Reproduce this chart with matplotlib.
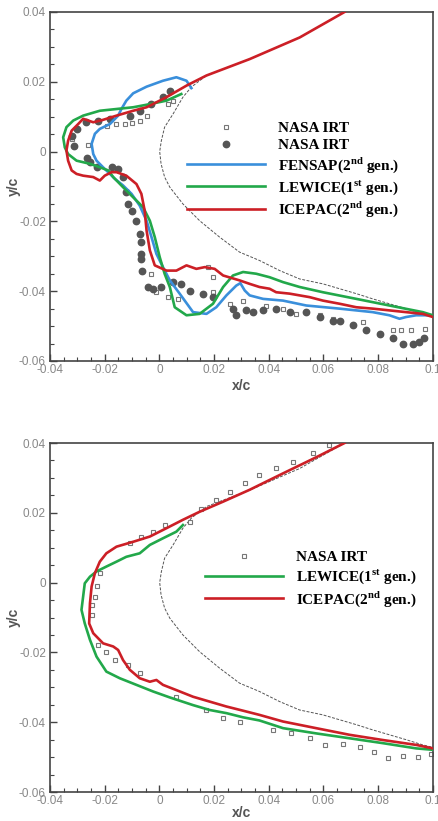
import matplotlib
matplotlib.use('Agg')
import matplotlib.pyplot as plt
from matplotlib.ticker import MultipleLocator, FixedLocator, FixedFormatter

plt.rcParams['mathtext.fontset'] = 'custom'
plt.rcParams['mathtext.rm'] = 'Liberation Serif:bold'
plt.rcParams['mathtext.bf'] = 'Liberation Serif:bold'

# ---------------- data ----------------
# clean airfoil (thin dashed)
clean_x = [0.0677, 0.0513, 0.0330, 0.0172, 0.0117, 0.0086, 0.0050, 0.0019, 0.0007, 0.0001,
           0.0006, 0.0019, 0.0038, 0.0086, 0.0147, 0.0220, 0.0293, 0.0366, 0.0440, 0.0513,
           0.0598, 0.0659, 0.0720, 0.0780, 0.0841, 0.0902, 0.0963, 0.1000]
clean_y = [0.0400, 0.0327, 0.0265, 0.0218, 0.0185, 0.0156, 0.0108, 0.0070, 0.0031, 0.0000,
           -0.0035, -0.0073, -0.0102, -0.0150, -0.0198, -0.0245, -0.0288, -0.0312, -0.0341, -0.0365,
           -0.0379, -0.0393, -0.0407, -0.0422, -0.0436, -0.0450, -0.0465, -0.0472]

# top chart
t_icepac_x = [0.0677, 0.0513, 0.0330, 0.0172, 0.0099, 0.0026, -0.0047, -0.0096, -0.0157, -0.0206,
              -0.0242, -0.0279, -0.0297, -0.0321, -0.0334, -0.0340, -0.0334, -0.0321, -0.0303, -0.0279,
              -0.0242, -0.0218, -0.0200, -0.0175, -0.0157, -0.0121, -0.0084, -0.0066, -0.0054, -0.0047,
              -0.0035, -0.0017, 0.0026, 0.0062, 0.0099, 0.0135, 0.0166, 0.0202, 0.0233, 0.0293,
              0.0330, 0.0366, 0.0403, 0.0427, 0.0476, 0.0549, 0.0598, 0.0659, 0.0720, 0.0780,
              0.0841, 0.0902, 0.0963, 0.1000]
t_icepac_y = [0.0400, 0.0327, 0.0265, 0.0218, 0.0189, 0.0156, 0.0127, 0.0117, 0.0103, 0.0091,
              0.0084, 0.0094, 0.0079, 0.0060, 0.0031, 0.0003, -0.0026, -0.0054, -0.0064, -0.0069,
              -0.0073, -0.0083, -0.0069, -0.0059, -0.0059, -0.0069, -0.0093, -0.0121, -0.0169, -0.0226,
              -0.0283, -0.0326, -0.0341, -0.0341, -0.0326, -0.0336, -0.0331, -0.0336, -0.0355, -0.0369,
              -0.0379, -0.0388, -0.0393, -0.0403, -0.0407, -0.0417, -0.0427, -0.0436, -0.0446, -0.0450,
              -0.0455, -0.0460, -0.0465, -0.0474]

t_lewice_x = [0.0080, 0.0026, -0.0035, -0.0096, -0.0157, -0.0218, -0.0279, -0.0315, -0.0340, -0.0352,
              -0.0346, -0.0334, -0.0303, -0.0254, -0.0218, -0.0187, -0.0169, -0.0133, -0.0096, -0.0060,
              -0.0035, -0.0017, 0.0001, 0.0019, 0.0038, 0.0056, 0.0099, 0.0147, 0.0196, 0.0233,
              0.0269, 0.0306, 0.0354, 0.0403, 0.0452, 0.0513, 0.0598, 0.0720, 0.0841, 0.0963, 0.1000]
t_lewice_y = [0.0165, 0.0146, 0.0136, 0.0127, 0.0122, 0.0117, 0.0103, 0.0089, 0.0070, 0.0041,
              0.0012, -0.0007, -0.0026, -0.0035, -0.0045, -0.0054, -0.0073, -0.0102, -0.0131, -0.0159,
              -0.0198, -0.0245, -0.0302, -0.0350, -0.0388, -0.0446, -0.0469, -0.0465, -0.0436, -0.0388,
              -0.0355, -0.0345, -0.0350, -0.0360, -0.0374, -0.0388, -0.0403, -0.0422, -0.0441, -0.0460, -0.0469]

t_fensap_x = [0.0117, 0.0099, 0.0062, 0.0013, -0.0047, -0.0096, -0.0121, -0.0139, -0.0151, -0.0181,
              -0.0218, -0.0236, -0.0248, -0.0242, -0.0230, -0.0206, -0.0181, -0.0163, -0.0133, -0.0102,
              -0.0072, -0.0047, -0.0029, -0.0011, 0.0013, 0.0038, 0.0074, 0.0123, 0.0172, 0.0208,
              0.0245, 0.0281, 0.0296, 0.0312, 0.0330, 0.0379, 0.0452, 0.0537, 0.0659, 0.0780,
              0.0841, 0.0878, 0.0902, 0.0939, 0.1000]
t_fensap_y = [0.0182, 0.0203, 0.0213, 0.0203, 0.0186, 0.0167, 0.0146, 0.0122, 0.0103, 0.0079,
              0.0065, 0.0051, 0.0022, -0.0007, -0.0026, -0.0045, -0.0064, -0.0078, -0.0097, -0.0121,
              -0.0155, -0.0198, -0.0245, -0.0293, -0.0331, -0.0369, -0.0407, -0.0460, -0.0465, -0.0446,
              -0.0412, -0.0384, -0.0377, -0.0398, -0.0412, -0.0422, -0.0427, -0.0441, -0.0450, -0.0460,
              -0.0469, -0.0479, -0.0474, -0.0469, -0.0469]

t_circ_x = [0.0038, 0.0013, -0.0029, -0.0072, -0.0108, -0.0181, -0.0224, -0.0267, -0.0303, -0.0318,
            -0.0313, -0.0264, -0.0254, -0.0230, -0.0175, -0.0151, -0.0133, -0.0121, -0.0114, -0.0102,
            -0.0084, -0.0072, -0.0066, -0.0066, -0.0066, -0.0062, -0.0041, -0.0023, 0.0007, 0.0050,
            0.0080, 0.0111, 0.0159, 0.0196, 0.0269, 0.0281, 0.0318, 0.0342, 0.0379, 0.0427,
            0.0476, 0.0537, 0.0586, 0.0634, 0.0659, 0.0707, 0.0756, 0.0805, 0.0853, 0.0890,
            0.0926, 0.0951, 0.0969]
t_circ_y = [0.0173, 0.0156, 0.0136, 0.0117, 0.0103, 0.0094, 0.0089, 0.0084, 0.0065, 0.0046,
            0.0017, -0.0018, -0.0031, -0.0045, -0.0045, -0.0050, -0.0073, -0.0116, -0.0150, -0.0169,
            -0.0198, -0.0236, -0.0260, -0.0293, -0.0307, -0.0341, -0.0388, -0.0393, -0.0388, -0.0374,
            -0.0379, -0.0400, -0.0409, -0.0417, -0.0450, -0.0469, -0.0453, -0.0460, -0.0455, -0.0450,
            -0.0460, -0.0460, -0.0474, -0.0484, -0.0486, -0.0498, -0.0512, -0.0522, -0.0533, -0.0551,
            -0.0551, -0.0546, -0.0533]

t_sq_x = [0.0050, 0.0032, -0.0047, -0.0072, -0.0102, -0.0127, -0.0157, -0.0191, -0.0260, -0.0321,
          -0.0029, -0.0011, 0.0032, 0.0068, 0.0178, 0.0196, 0.0196, 0.0257, 0.0306, 0.0391,
          0.0452, 0.0500, 0.0586, 0.0634, 0.0744, 0.0853, 0.0884, 0.0920, 0.0973]
t_sq_y = [0.0146, 0.0136, 0.0103, 0.0087, 0.0082, 0.0079, 0.0079, 0.0072, 0.0020, 0.0036,
          -0.0350, -0.0403, -0.0417, -0.0422, -0.0331, -0.0360, -0.0403, -0.0436, -0.0427, -0.0441,
          -0.0450, -0.0465, -0.0469, -0.0479, -0.0489, -0.0510, -0.0510, -0.0510, -0.0508]

# bottom chart
b_icepac_x = [0.0677, 0.0573, 0.0452, 0.0330, 0.0233, 0.0147, 0.0086, 0.0026, -0.0035, -0.0096,
              -0.0157, -0.0194, -0.0218, -0.0236, -0.0248, -0.0254, -0.0257, -0.0242, -0.0206, -0.0169,
              -0.0151, -0.0133, -0.0108, -0.0072, -0.0035, -0.0011, 0.0013, 0.0062, 0.0123, 0.0184,
              0.0245, 0.0306, 0.0366, 0.0452, 0.0573, 0.0695, 0.0817, 0.0939, 0.1000]
b_icepac_y = [0.0400, 0.0359, 0.0313, 0.0266, 0.0232, 0.0203, 0.0180, 0.0156, 0.0132, 0.0117,
              0.0103, 0.0084, 0.0060, 0.0027, -0.0011, -0.0059, -0.0117, -0.0145, -0.0174, -0.0183,
              -0.0193, -0.0222, -0.0250, -0.0274, -0.0284, -0.0279, -0.0293, -0.0308, -0.0327, -0.0341,
              -0.0355, -0.0367, -0.0379, -0.0398, -0.0417, -0.0436, -0.0451, -0.0465, -0.0475]

b_lewice_x = [0.0086, 0.0062, 0.0013, -0.0035, -0.0072, -0.0121, -0.0157, -0.0194, -0.0230, -0.0254,
              -0.0273, -0.0279, -0.0285, -0.0273, -0.0254, -0.0230, -0.0194, -0.0145, -0.0084, -0.0023,
              0.0038, 0.0123, 0.0184, 0.0245, 0.0306, 0.0366, 0.0452, 0.0573, 0.0695, 0.0817,
              0.0939, 0.1000]
b_lewice_y = [0.0165, 0.0146, 0.0127, 0.0108, 0.0084, 0.0074, 0.0060, 0.0046, 0.0032, 0.0017,
              -0.0002, -0.0040, -0.0078, -0.0117, -0.0164, -0.0212, -0.0255, -0.0274, -0.0293, -0.0312,
              -0.0329, -0.0351, -0.0365, -0.0374, -0.0386, -0.0395, -0.0417, -0.0432, -0.0446, -0.0460,
              -0.0475, -0.0479]

b_sq_x = [0.0622, 0.0561, 0.0488, 0.0427, 0.0366, 0.0312, 0.0257, 0.0208, 0.0153, 0.0111,
          0.0019, -0.0023, -0.0066, -0.0108, -0.0218, -0.0230, -0.0236, -0.0248, -0.0248, -0.0224,
          -0.0194, -0.0163, -0.0114, -0.0072, 0.0062, 0.0172, 0.0233, 0.0293, 0.0415, 0.0482,
          0.0549, 0.0604, 0.0671, 0.0732, 0.0786, 0.0835, 0.0890, 0.0945, 0.0993]
b_sq_y = [0.0394, 0.0371, 0.0347, 0.0328, 0.0308, 0.0285, 0.0261, 0.0237, 0.0210, 0.0175,
          0.0165, 0.0146, 0.0132, 0.0113, 0.0027, -0.0011, -0.0040, -0.0064, -0.0093, -0.0179,
          -0.0198, -0.0222, -0.0236, -0.0260, -0.0327, -0.0365, -0.0389, -0.0398, -0.0422, -0.0432,
          -0.0446, -0.0465, -0.0462, -0.0470, -0.0484, -0.0503, -0.0497, -0.0500, -0.0491]

x_ticks = [-0.04, -0.02, 0, 0.02, 0.04, 0.06, 0.08, 0.1]
x_labels = ['-0.04', '-0.02', '0', '0.02', '0.04', '0.06', '0.08', '0.1']
y_ticks = [-0.06, -0.04, -0.02, 0, 0.02, 0.04]
y_labels = ['-0.06', '-0.04', '-0.02', '0', '0.02', '0.04']

blue = '#3a8fdb'
green = '#22a84a'
red = '#cc1f26'
lw = 1.9

legend_font = {'family': 'Liberation Serif', 'weight': 'bold', 'size': 11}


def style_axes(ax):
    ax.set_xlim(-0.04, 0.1)
    ax.set_ylim(-0.06, 0.04)
    ax.xaxis.set_major_locator(FixedLocator(x_ticks))
    ax.xaxis.set_major_formatter(FixedFormatter(x_labels))
    ax.yaxis.set_major_locator(FixedLocator(y_ticks))
    ax.yaxis.set_major_formatter(FixedFormatter(y_labels))
    ax.xaxis.set_minor_locator(MultipleLocator(0.005))
    ax.yaxis.set_minor_locator(MultipleLocator(0.005))
    ax.tick_params(which='both', direction='in', top=False, right=False,
                   colors='#444', labelcolor='#888', labelsize=8.5)
    ax.tick_params(which='major', length=5, width=1)
    ax.tick_params(which='minor', length=3, width=0.8)
    ax.tick_params(axis='x', pad=2)
    ax.tick_params(axis='y', pad=3)
    for lab in ax.get_xticklabels() + ax.get_yticklabels():
        lab.set_family('Liberation Sans')
    for sp in ax.spines.values():
        sp.set_color('#444')
        sp.set_linewidth(1.2)
    ax.set_xlabel('x/c', fontsize=10, fontweight='bold', color='#555', family='Liberation Sans')
    ax.set_ylabel('y/c', fontsize=10, fontweight='bold', color='#555', family='Liberation Sans')


fig = plt.figure(figsize=(4.39, 8.21), dpi=100)
ax1 = fig.add_axes([0.114, 0.5603, 0.872, 0.4251])
ax2 = fig.add_axes([0.114, 0.0353, 0.872, 0.4251])

# ---- top ----
ax1.plot(clean_x, clean_y, color='#555', lw=0.7, ls=(0, (3, 1.5)), zorder=1)
h_sq, = ax1.plot(t_sq_x, t_sq_y, 's', ms=3.5, mfc='white', mec='#777', mew=0.8, ls='none', zorder=2)
h_ci, = ax1.plot(t_circ_x, t_circ_y, 'o', ms=4.6, mfc='#555', mec='#555', ls='none', zorder=2)
h_fe, = ax1.plot(t_fensap_x, t_fensap_y, color=blue, lw=lw, zorder=3)
h_le, = ax1.plot(t_lewice_x, t_lewice_y, color=green, lw=lw, zorder=3)
h_ic, = ax1.plot(t_icepac_x, t_icepac_y, color=red, lw=lw, zorder=4)
style_axes(ax1)
ax1.xaxis.set_label_coords(0.5, -0.052)
ax1.yaxis.set_label_coords(-0.075, 0.5)
ax1.legend([h_sq, h_ci, h_fe, h_le, h_ic],
           ['NASA IRT', 'NASA IRT', 'FENSAP(2$^{\\rm nd}$ gen.)',
            'LEWICE(1$^{\\rm st}$ gen.)', 'ICEPAC(2$^{\\rm nd}$ gen.)'],
           loc='center left', bbox_to_anchor=(0.358, 0.546), frameon=False,
           prop=legend_font, handlelength=5.1, handletextpad=0.85,
           labelspacing=0.2, borderpad=0, borderaxespad=0)

# ---- bottom ----
ax2.plot(clean_x, clean_y, color='#555', lw=0.7, ls=(0, (3, 1.5)), zorder=1)
g_sq, = ax2.plot(b_sq_x, b_sq_y, 's', ms=3.5, mfc='white', mec='#777', mew=0.8, ls='none', zorder=2)
g_le, = ax2.plot(b_lewice_x, b_lewice_y, color=green, lw=lw, zorder=3)
g_ic, = ax2.plot(b_icepac_x, b_icepac_y, color=red, lw=lw, zorder=4)
style_axes(ax2)
ax2.xaxis.set_label_coords(0.5, -0.040)
ax2.yaxis.set_label_coords(-0.075, 0.5)
ax2.legend([g_sq, g_le, g_ic],
           ['NASA IRT', 'LEWICE(1$^{\\rm st}$ gen.)', 'ICEPAC(2$^{\\rm nd}$ gen.)'],
           loc='center left', bbox_to_anchor=(0.405, 0.608), frameon=False,
           prop=legend_font, handlelength=5.1, handletextpad=0.85,
           labelspacing=0.2, borderpad=0, borderaxespad=0)

fig.savefig('out.png', dpi=100)
